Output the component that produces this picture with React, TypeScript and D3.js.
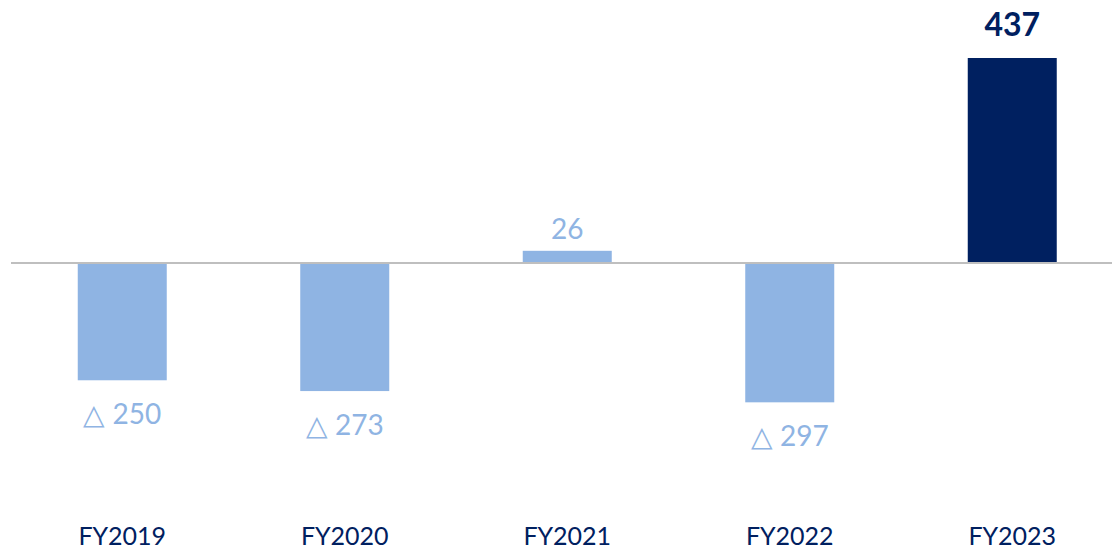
import React from "react";
import * as d3 from "d3";

const categories = ["FY2019", "FY2020", "FY2021", "FY2022", "FY2023"];
const values = [-250, -273, 26, -297, 437];
const valueLabels = ["△ 250", "△ 273", "26", "△ 297", "437"];

const W = 1112;
const H = 549;
const LIGHT = "#8FB4E3";
const NAVY = "#002060";

export default function App() {
  const x = d3.scaleBand<string>().domain(categories).range([11, 1123.5]).padding(0);
  const y = d3.scaleLinear().domain([0, 437]).range([263, 58]);
  const barW = x.bandwidth() * 0.4;
  const font = "Lato, 'Open Sans', sans-serif";

  return (
    <svg
      width={W}
      height={H}
      style={{ position: "absolute", left: 0, top: 0, background: "#fff" }}
    >
      {categories.map((c, i) => {
        const v = values[i];
        const cx = (x(c) ?? 0) + x.bandwidth() / 2;
        const last = i === categories.length - 1;
        const top = Math.min(y(v), y(0));
        const h = Math.abs(y(v) - y(0));
        const labelY = v >= 0 ? y(v) - (last ? 22 : 12) : y(v) + 44;
        return (
          <g key={c}>
            <rect x={cx - barW / 2} y={top} width={barW} height={h} fill={last ? NAVY : LIGHT} />
            <text
              x={cx}
              y={labelY}
              textAnchor="middle"
              fontFamily={font}
              fontSize={last ? 32 : 28}
              fontWeight={last ? 700 : 400}
              fill={last ? NAVY : LIGHT}
            >
              {valueLabels[i]}
            </text>
            <text x={cx} y={545} textAnchor="middle" fontFamily={font} fontSize={25} fill={NAVY}>
              {c}
            </text>
          </g>
        );
      })}
      <line x1={11} x2={W} y1={y(0)} y2={y(0)} stroke="#BFBFBF" strokeWidth={2} />
    </svg>
  );
}
